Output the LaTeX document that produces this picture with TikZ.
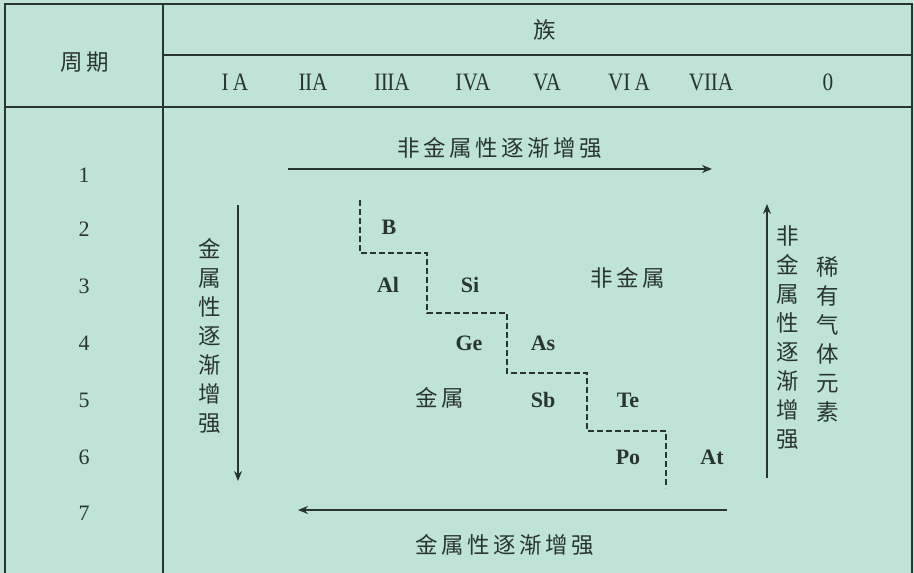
\documentclass[tikz,border=0pt]{standalone}
\usepackage{fontspec}
\setmainfont{Liberation Serif}
\newfontfamily\cjk{Noto Sans CJK SC}
\newfontfamily\cond[FakeStretch=0.85]{Liberation Serif}
\usetikzlibrary{arrows.meta}
\definecolor{bg}{HTML}{BFE3D6}
\definecolor{ink}{HTML}{2A3532}
\def\hsp#1{\hspfirst#1\relax}
\def\hspfirst#1{#1\hspaux}
\def\hspaux#1{\ifx#1\relax\else\kern3.5pt#1\expandafter\hspaux\fi}
\begin{document}
\begin{tikzpicture}[x=1pt,y=-1pt,
 tline/.style={draw=ink, line width=1.2pt},
 zh/.style={font=\cjk\fontsize{22.5}{29}\selectfont, text=ink, inner sep=0pt, align=center},
 num/.style={font=\fontsize{22}{26}\selectfont, text=ink, inner sep=0pt},
 grp/.style={font=\cond\fontsize{25}{28}\selectfont, text=ink, inner sep=0pt},
 el/.style={font=\bfseries\fontsize{22}{26}\selectfont, text=ink, inner sep=0pt},
 arr/.style={draw=ink, line width=1.2pt, -{Stealth[length=10pt,width=8pt]}},
 dsh/.style={draw=ink, line width=1.3pt, dash pattern=on 5.5pt off 3.5pt}]
\fill[bg] (0,0) rectangle (914,573);
\useasboundingbox (0,0) rectangle (914,573);
% table lines
\draw[tline] (5,573) -- (5,4) -- (912,4) -- (912,573);
\draw[tline] (163,4) -- (163,573);
\draw[tline] (163,55) -- (912,55);
\draw[tline] (5,107) -- (912,107);
% headers
\node[zh] (zq) at (85,62) {\hsp{周期}};
\node[zh] (zu) at (545,30) {族};
\node[grp] (g1) at (235,82) {I\,A};
\node[grp] (g2) at (313,82) {I\kern-0.5pt IA};
\node[grp] (g3) at (392,82) {I\kern-0.5pt I\kern-0.5pt IA};
\node[grp] (g4) at (473,82) {IVA};
\node[grp] (g5) at (547,82) {VA};
\node[grp] (g6) at (629,82) {VI\,A};
\node[grp] (g7) at (711,82) {VI\kern-0.5pt IA};
\node[grp] (g0) at (828,82) {0};
% periods
\node[num] (p1) at (84,175) {1};
\node[num] (p2) at (84,229) {2};
\node[num] (p3) at (84,286) {3};
\node[num] (p4) at (84,343) {4};
\node[num] (p5) at (84,400) {5};
\node[num] (p6) at (84,457) {6};
\node[num] (p7) at (84,513) {7};
% arrows
\coordinate (t1) at (288,169); \coordinate (t2) at (712,169);
\draw[arr] (t1) -- (t2);
\node[zh] (tl) at (500,148) {\hsp{非金属性逐渐增强}};
\coordinate (b1) at (727,510); \coordinate (b2) at (298,510);
\draw[arr] (b1) -- (b2);
\node[zh] (bl) at (505,545) {\hsp{金属性逐渐增强}};
\coordinate (l1) at (238,205); \coordinate (l2) at (238,481);
\draw[arr] (l1) -- (l2);
\node[zh] (ll) at (210,336) {金\\属\\性\\逐\\渐\\增\\强};
\coordinate (r1) at (767,478); \coordinate (r2) at (767,204);
\draw[arr] (r1) -- (r2);
\node[zh] (rl) at (788,338) {非\\金\\属\\性\\逐\\渐\\增\\强};
\node[zh] (rg) at (828,339) {稀\\有\\气\\体\\元\\素};
% staircase
\coordinate (d0) at (360,200);
\coordinate (d1) at (360,253);
\coordinate (d2) at (427,253);
\coordinate (d3) at (427,313);
\coordinate (d4) at (507,313);
\coordinate (d5) at (507,373);
\coordinate (d6) at (587,373);
\coordinate (d7) at (587,431);
\coordinate (d8) at (666,431);
\coordinate (d9) at (666,488);
\draw[dsh] (d0) -- (d1) -- (d2) -- (d3) -- (d4) -- (d5) -- (d6) -- (d7) -- (d8) -- (d9);
% elements
\node[el] (B) at (389,227) {B};
\node[el] (Al) at (388,285) {Al};
\node[el] (Si) at (470,285) {Si};
\node[el] (Ge) at (469,343) {Ge};
\node[el] (As) at (543,343) {As};
\node[el] (Sb) at (543,400) {Sb};
\node[el] (Te) at (628,400) {Te};
\node[el] (Po) at (628,457) {Po};
\node[el] (At) at (712,457) {At};
\node[zh] (fj) at (628,278) {\hsp{非金属}};
\node[zh] (jj) at (440,398) {\hsp{金属}};
\end{tikzpicture}
\end{document}
